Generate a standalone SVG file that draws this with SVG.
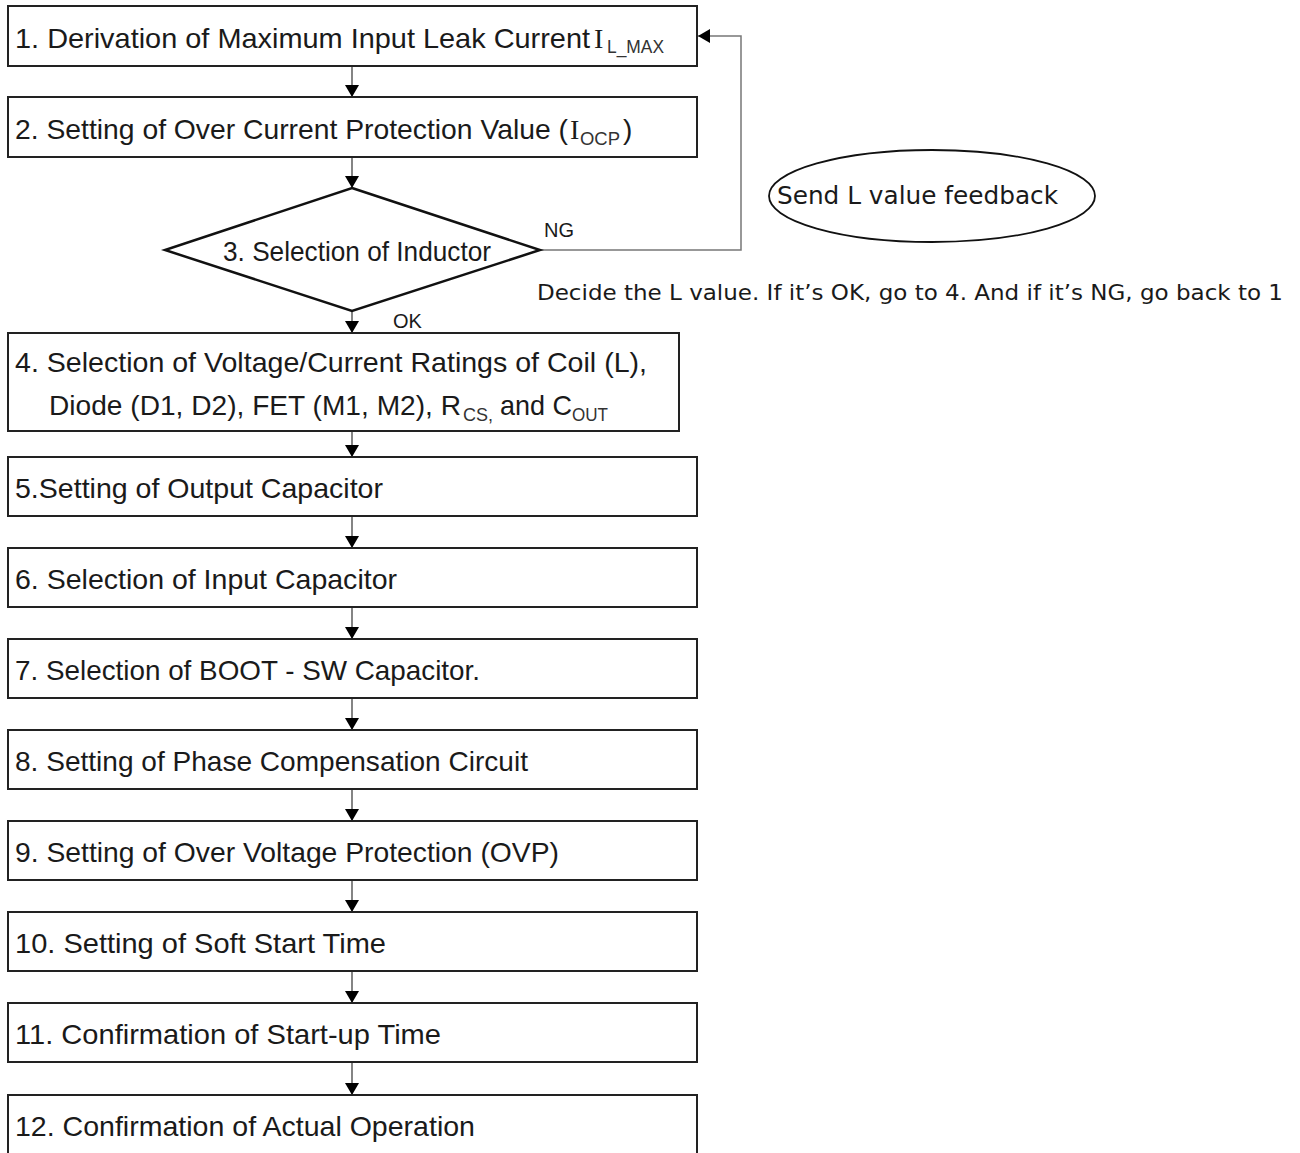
<svg xmlns="http://www.w3.org/2000/svg" width="1300" height="1153" viewBox="0 0 1300 1153">
<style>
.box{fill:#fff;stroke:#222;stroke-width:2}
.t{font-family:"Liberation Sans",Arial,sans-serif;font-size:28px;fill:#1a1a1a}
.i{font-family:"Liberation Serif","Times New Roman",serif;font-size:28px;fill:#1a1a1a}
.s{font-family:"Liberation Sans",Arial,sans-serif;font-size:18px;fill:#333}
.lbl{font-family:"Liberation Sans",Arial,sans-serif;font-size:20px;fill:#1a1a1a}
.w{font-family:"DejaVu Sans",Verdana,sans-serif;fill:#1a1a1a}
.c{fill:none;stroke:#333;stroke-width:1.2}
</style>
<defs>
<marker id="ah" markerWidth="12" markerHeight="14" refX="12" refY="7" orient="auto" markerUnits="userSpaceOnUse">
<path d="M0,0 L12,7 L0,14 Z" fill="#000"/>
</marker>
</defs>
<rect width="1300" height="1153" fill="#fff"/>
<g id="connectors">
<line class="c" x1="352" y1="66" x2="352" y2="97" marker-end="url(#ah)"/>
<line class="c" x1="352" y1="157" x2="352" y2="188" marker-end="url(#ah)"/>
<line class="c" x1="352" y1="311" x2="352" y2="333" marker-end="url(#ah)"/>
<line class="c" x1="352" y1="431" x2="352" y2="457" marker-end="url(#ah)"/>
<line class="c" x1="352" y1="516" x2="352" y2="548" marker-end="url(#ah)"/>
<line class="c" x1="352" y1="607" x2="352" y2="639" marker-end="url(#ah)"/>
<line class="c" x1="352" y1="698" x2="352" y2="730" marker-end="url(#ah)"/>
<line class="c" x1="352" y1="789" x2="352" y2="821" marker-end="url(#ah)"/>
<line class="c" x1="352" y1="880" x2="352" y2="912" marker-end="url(#ah)"/>
<line class="c" x1="352" y1="971" x2="352" y2="1003" marker-end="url(#ah)"/>
<line class="c" x1="352" y1="1062" x2="352" y2="1095" marker-end="url(#ah)"/>
<path d="M540,250 H741 V36 H698" fill="none" stroke="#777" stroke-width="1.5" marker-end="url(#ah)"/>
<text class="lbl" x="544" y="237">NG</text>
<text class="lbl" x="393" y="328">OK</text>
</g>
<g id="n1">
<rect class="box" x="8" y="6" width="689" height="60"/>
<text class="t" x="15" y="48" textLength="575" lengthAdjust="spacingAndGlyphs">1. Derivation of Maximum Input Leak Current</text>
<text class="i" x="594" y="48">I</text>
<text class="s" x="607" y="53" textLength="57" lengthAdjust="spacingAndGlyphs" fill="#666">L_MAX</text>
</g>
<g id="n2">
<rect class="box" x="8" y="97" width="689" height="60"/>
<text class="t" x="15" y="139" textLength="553" lengthAdjust="spacingAndGlyphs">2. Setting of Over Current Protection Value (</text>
<text class="i" x="570" y="139">I</text>
<text class="s" x="580" y="145" textLength="40" lengthAdjust="spacingAndGlyphs">OCP</text>
<text class="t" x="623" y="139">)</text>
</g>
<g id="n3">
<polygon points="352,188 540,250 352,311 165,250" fill="#fff" stroke="#111" stroke-width="2.5"/>
<text class="t" x="223" y="261" textLength="268" lengthAdjust="spacingAndGlyphs">3. Selection of Inductor</text>
</g>
<g id="n4">
<rect class="box" x="8" y="333" width="671" height="98"/>
<text class="t" x="15" y="372" textLength="632" lengthAdjust="spacingAndGlyphs">4. Selection of Voltage/Current Ratings of Coil (L),</text>
<text class="t" x="49" y="415" textLength="412" lengthAdjust="spacingAndGlyphs">Diode (D1, D2), FET (M1, M2), R</text>
<text class="s" x="463" y="421" textLength="30" lengthAdjust="spacingAndGlyphs">CS,</text>
<text class="t" x="500" y="415" textLength="72" lengthAdjust="spacingAndGlyphs">and C</text>
<text class="s" x="572" y="421" textLength="36" lengthAdjust="spacingAndGlyphs">OUT</text>
</g>
<g id="n5">
<rect class="box" x="8" y="457" width="689" height="59"/>
<text class="t" x="15" y="498" textLength="368" lengthAdjust="spacingAndGlyphs">5.Setting of Output Capacitor</text>
</g>
<g id="n6">
<rect class="box" x="8" y="548" width="689" height="59"/>
<text class="t" x="15" y="589" textLength="382" lengthAdjust="spacingAndGlyphs">6. Selection of Input Capacitor</text>
</g>
<g id="n7">
<rect class="box" x="8" y="639" width="689" height="59"/>
<text class="t" x="15" y="680" textLength="465" lengthAdjust="spacingAndGlyphs">7. Selection of BOOT - SW Capacitor.</text>
</g>
<g id="n8">
<rect class="box" x="8" y="730" width="689" height="59"/>
<text class="t" x="15" y="771" textLength="513" lengthAdjust="spacingAndGlyphs">8. Setting of Phase Compensation Circuit</text>
</g>
<g id="n9">
<rect class="box" x="8" y="821" width="689" height="59"/>
<text class="t" x="15" y="862" textLength="544" lengthAdjust="spacingAndGlyphs">9. Setting of Over Voltage Protection (OVP)</text>
</g>
<g id="n10">
<rect class="box" x="8" y="912" width="689" height="59"/>
<text class="t" x="15" y="953" textLength="371" lengthAdjust="spacingAndGlyphs">10. Setting of Soft Start Time</text>
</g>
<g id="n11">
<rect class="box" x="8" y="1003" width="689" height="59"/>
<text class="t" x="15" y="1044" textLength="426" lengthAdjust="spacingAndGlyphs">11. Confirmation of Start-up Time</text>
</g>
<g id="n12">
<rect class="box" x="8" y="1095" width="689" height="70"/>
<text class="t" x="15" y="1136" textLength="460" lengthAdjust="spacingAndGlyphs">12. Confirmation of Actual Operation</text>
</g>
<g id="feedback">
<ellipse cx="932" cy="196" rx="163" ry="46" fill="#fff" stroke="#111" stroke-width="1.8"/>
<text class="w" x="777" y="204" font-size="25" textLength="281" lengthAdjust="spacingAndGlyphs">Send L value feedback</text>
</g>
<g id="note">
<text class="w" x="537" y="300" font-size="21" textLength="746" lengthAdjust="spacingAndGlyphs">Decide the L value. If it’s OK, go to 4. And if it’s NG, go back to 1</text>
</g>
</svg>
